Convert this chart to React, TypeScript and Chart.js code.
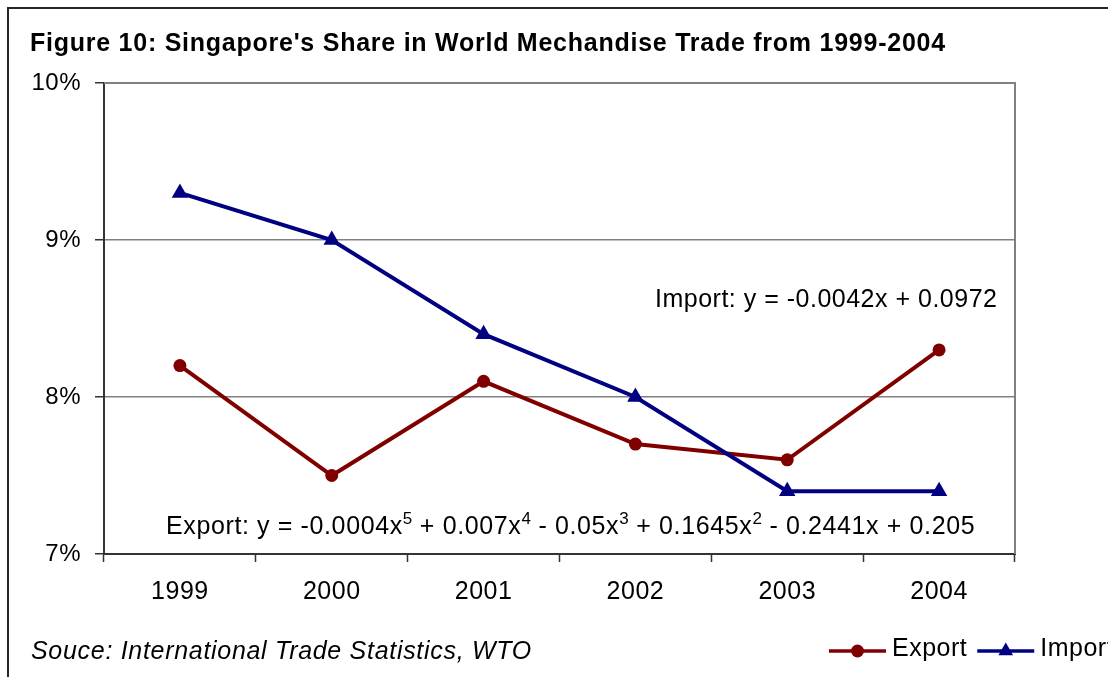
import React, { useEffect, useRef } from 'react';
import { Chart, registerables } from 'chart.js';

Chart.register(...registerables);

// ---- data ----
const years = ['1999', '2000', '2001', '2002', '2003', '2004'];
const exportShare = [8.2, 7.5, 8.1, 7.7, 7.6, 8.3];
const importShare = [9.3, 9.0, 8.4, 8.0, 7.4, 7.4];
const yMin = 7;
const yMax = 10;
const yStep = 1;
const titleText = "Figure 10: Singapore's Share in World Mechandise Trade from 1999-2004";
const sourceText = 'Souce: International Trade Statistics, WTO';
const importEquation = 'Import: y = -0.0042x + 0.0972';
// export equation: [text, superscript] pairs
const exportEquation: [string, string][] = [
  ['Export: y = -0.0004x', '5'],
  [' + 0.007x', '4'],
  [' - 0.05x', '3'],
  [' + 0.1645x', '2'],
  [' - 0.2441x + 0.205', ''],
];

const FONT = '"Liberation Sans", Arial, Helvetica, sans-serif';
const EXPORT_COLOR = '#800000';
const IMPORT_COLOR = '#000080';
const AXIS_COLOR = '#333333';
const GRID_COLOR = '#808080';

const spacingPlugin = {
  id: 'letterSpacing',
  beforeUpdate(chart: any) {
    chart.ctx.letterSpacing = '0.5px';
  },
  beforeDraw(chart: any) {
    chart.ctx.letterSpacing = '0.5px';
  },
};

const framePlugin = {
  id: 'plotFrame',
  beforeDatasetsDraw(chart: any) {
    const { ctx, chartArea: a } = chart;
    ctx.save();
    ctx.strokeStyle = GRID_COLOR;
    ctx.lineWidth = 2;
    ctx.beginPath();
    ctx.moveTo(a.left, a.top);
    ctx.lineTo(a.right, a.top);
    ctx.lineTo(a.right, a.bottom);
    ctx.stroke();
    ctx.restore();
  },
};

const legendPlugin = {
  id: 'lineLegend',
  afterDraw(chart: any) {
    const ctx = chart.ctx;
    ctx.save();
    ctx.font = `25px ${FONT}`;
    ctx.letterSpacing = '0.5px';
    ctx.textBaseline = 'alphabetic';
    ctx.textAlign = 'left';
    let x = 829;
    const yLine = 651;
    const yText = 656;
    chart.data.datasets.forEach((ds: any) => {
      const color = ds.borderColor;
      ctx.strokeStyle = color;
      ctx.lineWidth = 3.5;
      ctx.beginPath();
      ctx.moveTo(x, yLine);
      ctx.lineTo(x + 57, yLine);
      ctx.stroke();
      const cx = x + 28.5;
      ctx.fillStyle = color;
      ctx.beginPath();
      if (ds.pointStyle === 'triangle') {
        const r = ds.pointRadius - 1;
        ctx.moveTo(cx, yLine - r);
        ctx.lineTo(cx + r * 0.866, yLine + r / 2);
        ctx.lineTo(cx - r * 0.866, yLine + r / 2);
        ctx.closePath();
      } else {
        ctx.arc(cx, yLine, ds.pointRadius, 0, Math.PI * 2);
      }
      ctx.fill();
      ctx.fillStyle = '#000';
      ctx.fillText(ds.label, x + 63, yText);
      x += 63 + ctx.measureText(ds.label).width + 10;
    });
    ctx.restore();
  },
};

const textBase: React.CSSProperties = {
  position: 'absolute',
  fontFamily: FONT,
  fontSize: 25,
  lineHeight: '25px',
  whiteSpace: 'nowrap',
  color: '#000',
  letterSpacing: '0.5px',
};

export default function App() {
  const ref = useRef<HTMLCanvasElement>(null);

  useEffect(() => {
    const chart = new Chart(ref.current as HTMLCanvasElement, {
      type: 'line',
      data: {
        labels: years,
        datasets: [
          {
            label: 'Export',
            data: exportShare,
            borderColor: EXPORT_COLOR,
            backgroundColor: EXPORT_COLOR,
            borderWidth: 4,
            pointStyle: 'circle',
            pointRadius: 6.5,
            pointBorderWidth: 0,
            pointBackgroundColor: EXPORT_COLOR,
            tension: 0,
            fill: false,
            order: 1,
          },
          {
            label: 'Import',
            data: importShare,
            borderColor: IMPORT_COLOR,
            backgroundColor: IMPORT_COLOR,
            borderWidth: 4,
            pointStyle: 'triangle',
            pointRadius: 9.5,
            pointBorderWidth: 0,
            pointBackgroundColor: IMPORT_COLOR,
            tension: 0,
            fill: false,
            order: 0,
          },
        ],
      },
      options: {
        animation: false,
        responsive: false,
        devicePixelRatio: 1,
        layout: { padding: { left: 0, top: 83, right: 93, bottom: 0 } },
        plugins: {
          legend: { display: false },
          title: { display: false },
          tooltip: { enabled: false },
        },
        scales: {
          x: {
            type: 'category',
            offset: true,
            afterFit: (scale: any) => {
              scale.height = 123;
            },
            grid: {
              display: true,
              drawOnChartArea: false,
              offset: true,
              drawTicks: true,
              tickLength: 8,
              tickColor: AXIS_COLOR,
              tickWidth: 1.5,
            },
            border: { display: true, color: AXIS_COLOR, width: 2 },
            ticks: {
              color: '#000',
              font: { family: FONT, size: 25 },
              padding: 15,
              maxRotation: 0,
              autoSkip: false,
            },
          },
          y: {
            type: 'linear',
            min: yMin,
            max: yMax,
            afterFit: (scale: any) => {
              scale.width = 104;
            },
            grid: {
              color: (c: any) => (c.tick && c.tick.value === yMin ? AXIS_COLOR : GRID_COLOR),
              lineWidth: 1.5,
              drawTicks: true,
              tickLength: 9,
              tickColor: AXIS_COLOR,
              tickWidth: 1.5,
            },
            border: { display: true, color: AXIS_COLOR, width: 2 },
            ticks: {
              stepSize: yStep,
              color: '#000',
              font: { family: FONT, size: 24 },
              padding: 14,
              callback: (v: any) => `${v}%`,
            },
          },
        },
      },
      plugins: [spacingPlugin, framePlugin, legendPlugin],
    } as any);
    return () => chart.destroy();
  }, []);

  return (
    <div
      style={{
        position: 'fixed',
        left: 0,
        top: 0,
        width: 1108,
        height: 677,
        overflow: 'hidden',
        background: '#fff',
      }}
    >
      <div
        style={{
          position: 'absolute',
          left: 7,
          top: 7,
          width: 1101,
          height: 670,
          borderLeft: '2px solid #262626',
          borderTop: '2px solid #262626',
          boxSizing: 'border-box',
        }}
      />
      <canvas
        ref={ref}
        width={1108}
        height={677}
        style={{ position: 'absolute', left: 0, top: 0, width: 1108, height: 677 }}
      />
      <div style={{ ...textBase, left: 30, top: 30, fontWeight: 'bold', letterSpacing: '0.75px' }}>
        {titleText}
      </div>
      <div style={{ ...textBase, left: 655, top: 286 }}>{importEquation}</div>
      <div style={{ ...textBase, left: 166, top: 513, letterSpacing: '0.62px' }}>
        {exportEquation.map(([t, s], i) => (
          <React.Fragment key={i}>
            {t}
            {s ? (
              <span style={{ fontSize: 17, position: 'relative', top: -10, letterSpacing: '0px' }}>{s}</span>
            ) : null}
          </React.Fragment>
        ))}
      </div>
      <div style={{ ...textBase, left: 31, top: 638, fontStyle: 'italic', letterSpacing: '0.7px' }}>{sourceText}</div>
    </div>
  );
}
